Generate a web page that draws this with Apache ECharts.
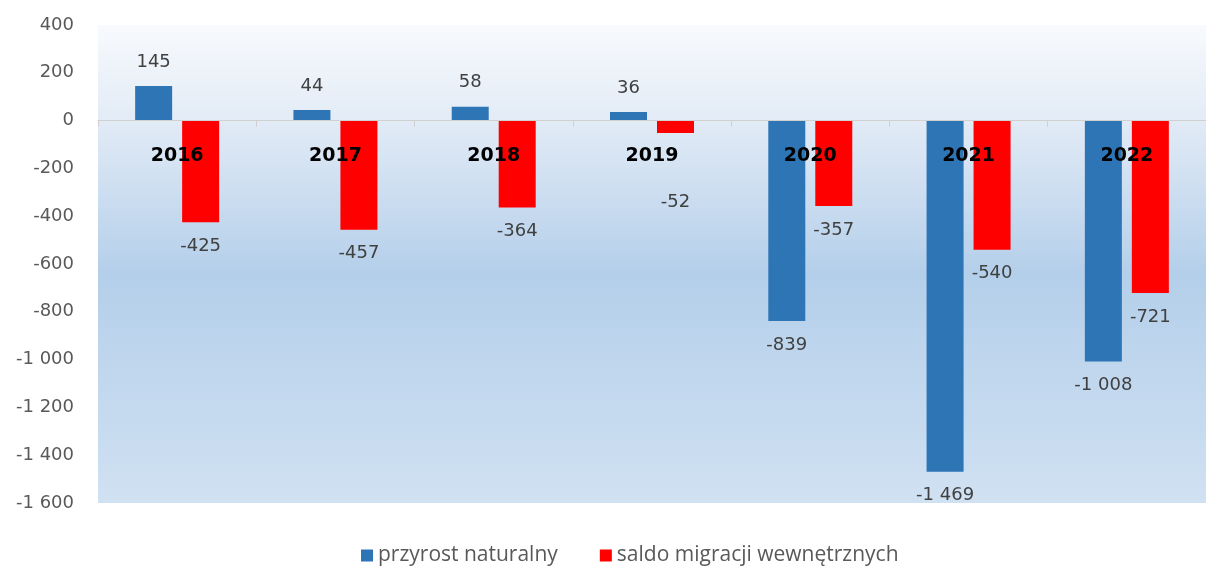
<!DOCTYPE html>
<html lang="pl">
<head>
    <meta charset="UTF-8">
    <title>Przyrost naturalny i saldo migracji</title>
    <style>
        html, body { margin: 0; padding: 0; background: #fff; }
        #chart { width: 1206px; height: 567px; }
    </style>
</head>
<body>
    <div id="chart"></div>
    <script src="https://cdn.jsdelivr.net/npm/echarts@6/dist/echarts.min.js"></script>
    <script>
        var years = ['2016', '2017', '2018', '2019', '2020', '2021', '2022'];
        var przyrost = [145, 44, 58, 36, -839, -1469, -1008];
        var saldo = [-425, -457, -364, -52, -357, -540, -721];
        var seriesNames = ['przyrost naturalny', 'saldo migracji wewnętrznych'];

        var yMin = -1600, yMax = 400;
        var gridTop = 25, gridHeight = 478;
        // oś X leży na linii zera, etykiety lat tuż pod nią
        var zeroOffset = -gridHeight * (0 - yMin) / (yMax - yMin);

        // liczby z odstępem tysięcy, jak w oryginale: -1 000
        function fmt(v) {
            var s = String(Math.abs(v)).replace(/\B(?=(\d{3})+(?!\d))/g, ' ');
            return (v < 0 ? '-' : '') + s;
        }

        function toData(arr, special) {
            return arr.map(function (v, i) {
                var lbl = { position: v >= 0 ? 'top' : 'bottom' };
                if (special && special[i]) lbl.distance = special[i];
                return { value: v, label: lbl };
            });
        }

        var labelStyle = {
            show: true,
            distance: 15,
            color: '#404040',
            fontSize: 18,
            fontFamily: 'DejaVu Sans',
            formatter: function (p) { return fmt(p.value); }
        };

        var chart = echarts.init(document.getElementById('chart'));
        chart.setOption({
            animation: false,
            grid: {
                left: 98,
                top: gridTop,
                width: 1128,
                height: gridHeight,
                show: true,
                borderWidth: 0,
                backgroundColor: new echarts.graphic.LinearGradient(0, 0, 0, 1, [
                    { offset: 0, color: '#f8fafd' },
                    { offset: 0.2, color: '#e2ebf6' },
                    { offset: 0.52, color: '#b4cfea' },
                    { offset: 1, color: '#d0e1f2' }
                ])
            },
            legend: {
                data: seriesNames,
                bottom: 1,
                left: 361,
                padding: 0,
                icon: 'rect',
                itemWidth: 12,
                itemHeight: 12,
                itemGap: 42,
                textStyle: { color: '#595959', fontSize: 21, fontFamily: 'Open Sans' }
            },
            xAxis: {
                type: 'category',
                data: years,
                offset: zeroOffset,
                axisLine: { onZero: false, lineStyle: { color: '#d0d0d0', width: 1 } },
                axisTick: { show: true, length: 6, lineStyle: { color: '#d0d0d0' } },
                axisLabel: {
                    margin: 26,
                    color: '#000',
                    fontSize: 19,
                    fontWeight: 'bold',
                    fontFamily: 'DejaVu Sans'
                },
                z: 5
            },
            yAxis: {
                type: 'value',
                min: yMin,
                max: yMax,
                interval: 200,
                splitLine: { show: false },
                axisLine: { show: false },
                axisTick: { show: false },
                axisLabel: {
                    margin: 24,
                    color: '#595959',
                    fontSize: 18,
                    fontFamily: 'DejaVu Sans',
                    formatter: fmt
                }
            },
            series: [
                {
                    name: seriesNames[0],
                    type: 'bar',
                    barWidth: 37,
                    barGap: '27%',
                    itemStyle: { color: '#2e75b6' },
                    label: labelStyle,
                    data: toData(przyrost)
                },
                {
                    name: seriesNames[1],
                    type: 'bar',
                    barWidth: 37,
                    barGap: '27%',
                    itemStyle: { color: '#ff0000' },
                    label: labelStyle,
                    data: toData(saldo, { 3: 60 })
                }
            ]
        });
    </script>
</body>
</html>
